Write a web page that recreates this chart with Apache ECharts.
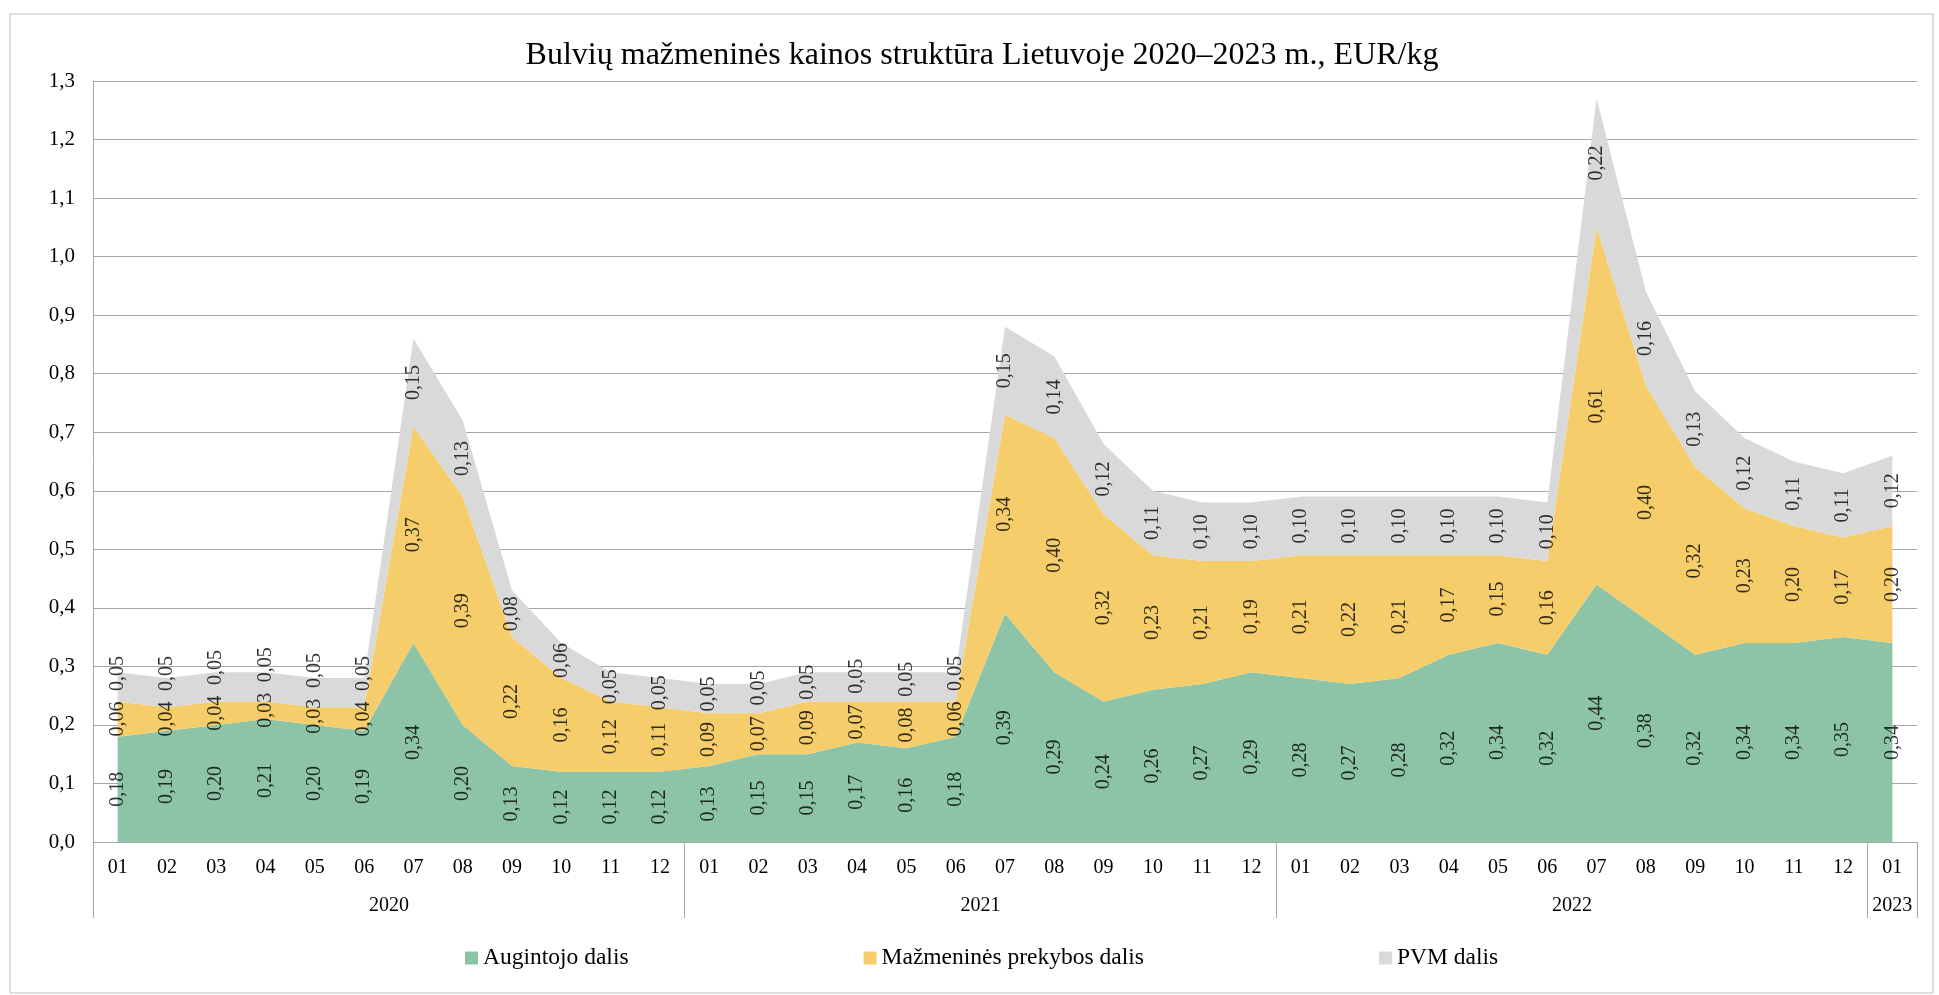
<!DOCTYPE html>
<html>
<head>
<meta charset="utf-8">
<script src="https://cdn.jsdelivr.net/npm/echarts@6/dist/echarts.min.js"></script>
<style>
html,body{margin:0;padding:0;background:#fff}
#chart{width:1939px;height:995px}
</style>
</head>
<body>
<div id="chart"></div>
<script>
// periods: year-month
var periods = [
  '2020-01','2020-02','2020-03','2020-04','2020-05','2020-06','2020-07','2020-08','2020-09','2020-10','2020-11','2020-12',
  '2021-01','2021-02','2021-03','2021-04','2021-05','2021-06','2021-07','2021-08','2021-09','2021-10','2021-11','2021-12',
  '2022-01','2022-02','2022-03','2022-04','2022-05','2022-06','2022-07','2022-08','2022-09','2022-10','2022-11','2022-12',
  '2023-01'
];
var augintojo = [0.18,0.19,0.20,0.21,0.20,0.19,0.34,0.20,0.13,0.12,0.12,0.12,
  0.13,0.15,0.15,0.17,0.16,0.18,0.39,0.29,0.24,0.26,0.27,0.29,
  0.28,0.27,0.28,0.32,0.34,0.32,0.44,0.38,0.32,0.34,0.34,0.35,
  0.34];
var prekybos = [0.06,0.04,0.04,0.03,0.03,0.04,0.37,0.39,0.22,0.16,0.12,0.11,
  0.09,0.07,0.09,0.07,0.08,0.06,0.34,0.40,0.32,0.23,0.21,0.19,
  0.21,0.22,0.21,0.17,0.15,0.16,0.61,0.40,0.32,0.23,0.20,0.17,
  0.20];
var pvm = [0.05,0.05,0.05,0.05,0.05,0.05,0.15,0.13,0.08,0.06,0.05,0.05,
  0.05,0.05,0.05,0.05,0.05,0.05,0.15,0.14,0.12,0.11,0.10,0.10,
  0.10,0.10,0.10,0.10,0.10,0.10,0.22,0.16,0.13,0.12,0.11,0.11,
  0.12];
var seriesNames = ['Augintojo dalis', 'Mažmeninės prekybos dalis', 'PVM dalis'];

var font = "'Liberation Serif','Times New Roman',serif";
var colors = ['#8DC3A7', '#F5CD6A', '#D9D9D9'];

var months = periods.map(function(p){ return p.split('-')[1]; });
var yearOf = periods.map(function(p){ return p.split('-')[0]; });
// first index of each year, and index in the middle of each year group
var yearStart = [], yearMid = {};
yearOf.forEach(function(y, i){ if (i === 0 || yearOf[i-1] !== y) yearStart.push(i); });
yearStart.forEach(function(s, k){
  var e = k + 1 < yearStart.length ? yearStart[k+1] : periods.length;
  var n = e - s;
  yearMid[s + Math.floor(n / 2)] = n % 2 === 0 ? 'even' : 'odd';
});

function fmt(v){ return v.toFixed(2).replace('.', ','); }

// label anchors: middle of each band, pushed up when the band is too thin
var minGap = 0.078;
var pos1 = augintojo.map(function(v){ return v / 2; });
var pos2 = prekybos.map(function(v, i){ return Math.max(augintojo[i] + v / 2, pos1[i] + minGap); });
var pos3 = pvm.map(function(v, i){ return Math.max(augintojo[i] + prekybos[i] + v / 2, pos2[i] + minGap); });

function areaSeries(name, vals, color){
  return {
    name: name, type: 'line', stack: 'total', data: vals,
    symbol: 'none', lineStyle: {width: 0}, silent: true,
    areaStyle: {color: color, opacity: 1}, itemStyle: {color: color},
    emphasis: {disabled: true}
  };
}
function labelSeries(vals, pos){
  return {
    type: 'scatter', silent: true, z: 5,
    symbolSize: 1, itemStyle: {color: 'rgba(0,0,0,0)'},
    data: pos.map(function(p, i){ return [i, p]; }),
    label: {
      show: true, position: 'inside', rotate: 90,
      color: '#000', fontSize: 20, fontFamily: font,
      formatter: function(p){ return fmt(vals[p.dataIndex]); }
    }
  };
}

var myChart = echarts.init(document.getElementById('chart'));
var option = {
  animation: false,
  textStyle: {fontFamily: font},
  title: {
    text: '{t|Bulvių mažmeninės kainos struktūra Lietuvoje 2020–2023 m., EUR/kg}',
    left: 'center', top: 35,
    textStyle: {
      fontFamily: font, fontSize: 32, fontWeight: 'normal', color: '#000',
      rich: {t: {fontFamily: font, fontSize: 32, color: '#000', padding: [0, 0, 0, 25]}}
    }
  },
  legend: {
    data: seriesNames, left: 460, top: 941,
    icon: 'rect', itemWidth: 13, itemHeight: 13, itemGap: 235,
    textStyle: {fontFamily: font, fontSize: 23.5, color: '#000'}
  },
  graphic: [{
    type: 'rect', shape: {x: 10, y: 14, width: 1923, height: 979},
    style: {fill: 'none', stroke: '#BFBFBF', lineWidth: 1}, silent: true
  }],
  grid: {left: 93, right: 22, top: 81, bottom: 153},
  xAxis: [{
    type: 'category', data: months, boundaryGap: true,
    axisLine: {show: true, lineStyle: {color: '#A6A6A6', width: 1}},
    axisTick: {show: false},
    axisLabel: {color: '#000', fontSize: 20, fontFamily: font, margin: 16, interval: 0}
  }, {
    type: 'category', data: months, boundaryGap: true, position: 'bottom',
    axisLine: {show: false},
    axisTick: {
      show: true, length: 76, lineStyle: {color: '#A6A6A6', width: 1},
      interval: function(i){ return yearStart.indexOf(i) >= 0; }
    },
    axisLabel: {
      color: '#000', fontSize: 20, fontFamily: font, margin: 54,
      interval: function(i){ return yearMid[i] !== undefined; },
      formatter: function(v, i){
        return yearMid[i] === 'even' ? '{e|' + yearOf[i] + '}' : '{o|' + yearOf[i] + '}';
      },
      rich: {
        e: {fontSize: 20, fontFamily: font, color: '#000', padding: [0, 49, 0, 0]},
        o: {fontSize: 20, fontFamily: font, color: '#000'}
      }
    }
  }],
  yAxis: {
    type: 'value', min: 0, max: 1.3, interval: 0.1,
    axisLine: {show: true, lineStyle: {color: '#A6A6A6', width: 1}},
    axisTick: {show: false},
    splitLine: {show: true, lineStyle: {color: '#A6A6A6', width: 1}},
    axisLabel: {
      color: '#000', fontSize: 21, fontFamily: font, margin: 18,
      formatter: function(v){ return (Math.round(v * 10) / 10).toFixed(1).replace('.', ','); }
    }
  },
  series: [
    areaSeries(seriesNames[0], augintojo, colors[0]),
    areaSeries(seriesNames[1], prekybos, colors[1]),
    areaSeries(seriesNames[2], pvm, colors[2]),
    labelSeries(augintojo, pos1),
    labelSeries(prekybos, pos2),
    labelSeries(pvm, pos3)
  ]
};
option && myChart.setOption(option);
</script>
</body>
</html>
